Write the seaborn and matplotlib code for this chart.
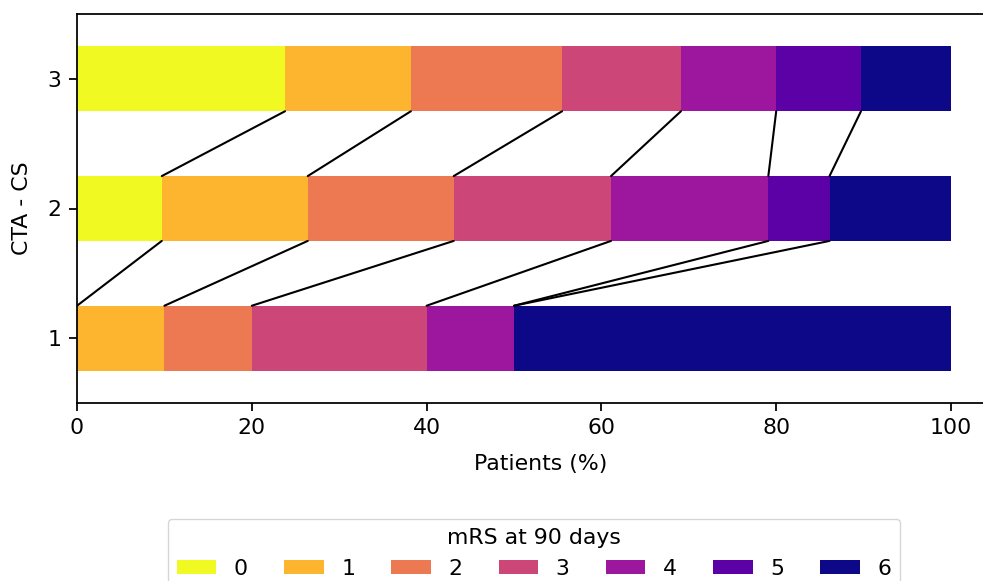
import numpy as np
import pandas as pd
import matplotlib
matplotlib.use("Agg")
import matplotlib.pyplot as plt
import seaborn as sns

# Data: share of patients (%) per mRS score at 90 days, for each CTA-CS grade
rows = ["1", "2", "3"]
mrs_scores = [0, 1, 2, 3, 4, 5, 6]
cs1 = [0.0, 10.0, 10.0, 20.0, 10.0, 0.0, 50.0]
cs2 = [9.7, 16.7, 16.7, 18.0, 18.0, 7.0, 13.9]
cs3 = [23.8, 14.4, 17.3, 13.6, 10.9, 9.7, 10.3]

shares = {"1": cs1, "2": cs2, "3": cs3}

# cumulative ends, so bars drawn on top of each other look stacked
records = []
for r in rows:
    cum = np.cumsum(shares[r])
    for s, c in zip(mrs_scores, cum):
        records.append({"row": r, "mRS": str(s), "cum": c})
df = pd.DataFrame(records)

sns.set_style("ticks")
plt.rcParams["font.family"] = ["DejaVu Sans"]
fs = 15.8

colors = [matplotlib.colormaps["plasma"](v) for v in np.linspace(1, 0, 7)]
palette = {str(s): c for s, c in zip(mrs_scores, colors)}

fig = plt.figure(figsize=(9.83, 5.81), dpi=100)
right_px = 1005
ax = fig.add_axes([77 / 983, 1 - 403 / 581, (right_px - 77) / 983, (403 - 14) / 581])

sns.barplot(data=df, y="row", x="cum", hue="mRS",
            hue_order=[str(s) for s in mrs_scores[::-1]],
            order=["3", "2", "1"], orient="h", dodge=False,
            palette=palette, width=0.5, errorbar=None, ax=ax,
            linewidth=0, saturation=1)

# connector lines between class boundaries of neighbouring rows
pos = {"3": 0, "2": 1, "1": 2}
for lower, upper in [("1", "2"), ("2", "3")]:
    c_lo = np.cumsum(shares[lower])
    c_up = np.cumsum(shares[upper])
    for i in range(6):
        ax.plot([c_lo[i], c_up[i]], [pos[lower] - 0.25, pos[upper] + 0.25],
                color="black", lw=1.5, zorder=5, solid_capstyle="round")

ax.set_xlim(0, 100 + (right_px - 951) / 8.74)
ax.set_ylim(2.5, -0.5)
ax.set_xticks([0, 20, 40, 60, 80, 100])
ax.set_xlabel("Patients (%)", fontsize=fs, color="black", labelpad=11)
ax.set_ylabel("CTA - CS", fontsize=fs, color="black", labelpad=11)
ax.tick_params(labelsize=fs, direction="out", length=5.5, width=1.27, pad=5.5,
               color="black", labelcolor="black")
for sp in ax.spines.values():
    sp.set_color("black")
    sp.set_linewidth(1.27)

handles, labels = ax.get_legend_handles_labels()
leg = ax.legend(handles[::-1], labels[::-1], title="mRS at 90 days", ncol=7,
                loc="upper left", bbox_to_anchor=(168 / 983, 1 - 519 / 581),
                bbox_transform=fig.transFigure, borderaxespad=0,
                fontsize=fs, title_fontsize=fs, handlelength=1.8,
                handleheight=0.6, columnspacing=1.65, frameon=True)
leg.get_title().set_color("black")
for t in leg.get_texts():
    t.set_color("black")

fig.savefig("out.png", dpi=100)
